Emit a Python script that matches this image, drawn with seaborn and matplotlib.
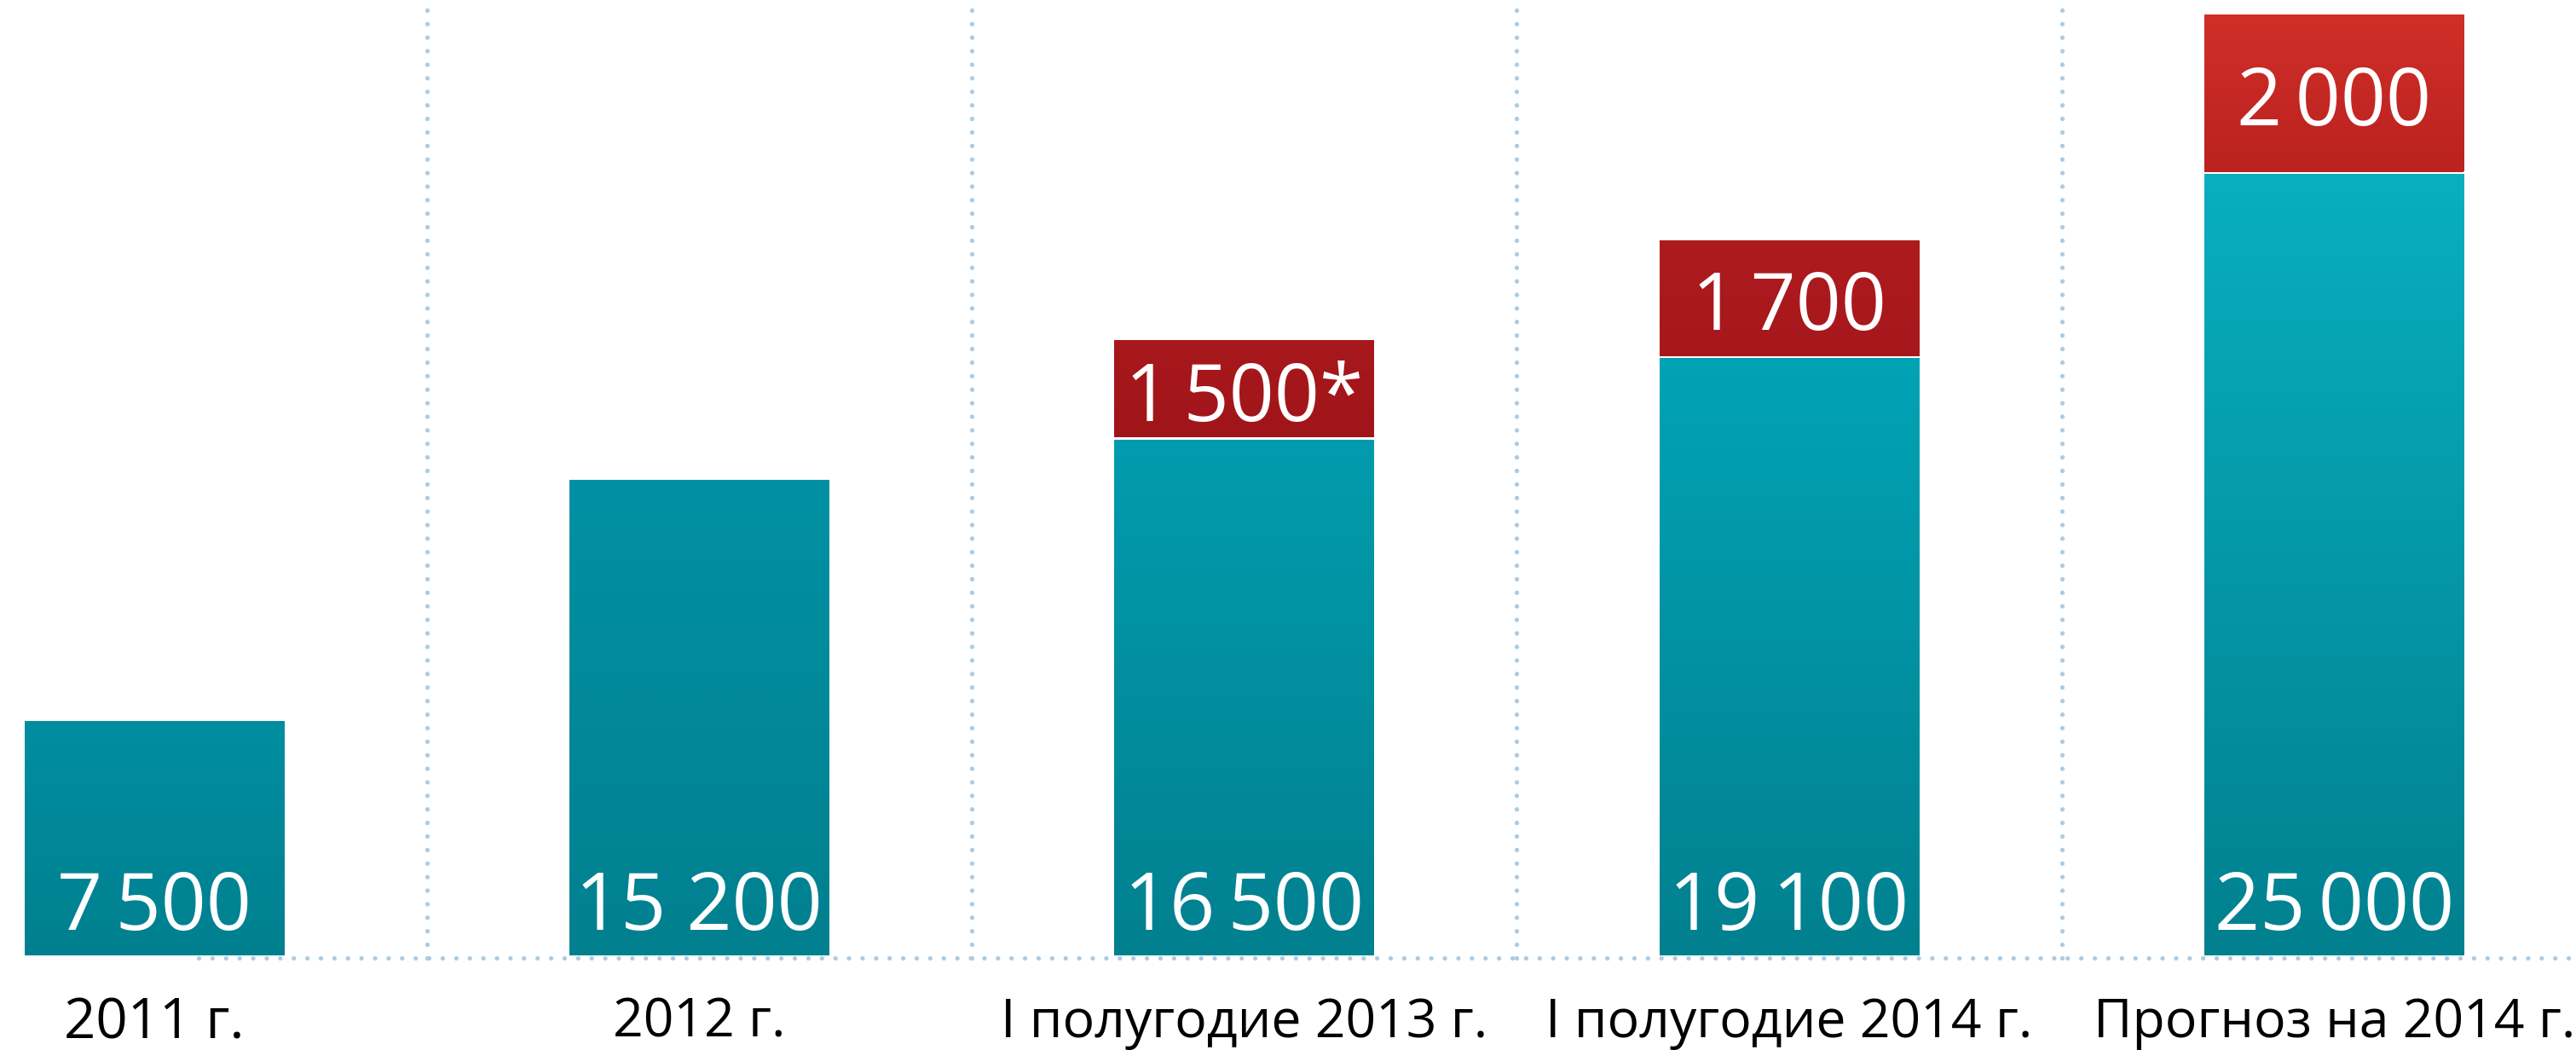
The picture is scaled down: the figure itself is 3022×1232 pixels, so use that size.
import numpy as np
import pandas as pd
import matplotlib
matplotlib.use("Agg")
import matplotlib.pyplot as plt
import seaborn as sns
from matplotlib.colors import LinearSegmentedColormap

# ---------------- data ----------------
categories = ["2011 г.", "2012 г.", "I полугодие 2013 г.", "I полугодие 2014 г.", "Прогноз на 2014 г."]
base_values = [7500, 15200, 16500, 19100, 25000]
base_labels = ["7\u2009500", "15 200", "16\u2009500", "19\u2009100", "25\u2009000"]
extra_values = [0, 0, 1500, 1700, 2000]
extra_labels = ["", "", "1\u2009500*", "1\u2009700", "2\u2009000"]
# heights of the red segments as they are drawn in the picture (not to scale there)
extra_drawn = [0, 0, 3100, 3700, 5000]

# ---------------- style ----------------
W, H, DPI = 3022, 1232, 100
PPU = 36.66 / 1000.0          # pixels per data unit
BASE_PX = 1121                # baseline pixel row (from top)
CAT_PX0, CAT_STEP = 181, 639.3
BAR_W = 0.476
GAP = 3 / PPU

teal_top = ["#008ea1", "#0191a4", "#029cae", "#02a3b5", "#08afbf"]
teal_bottom = "#01808f"
red_top = ["", "", "#a8181c", "#ae1b1e", "#d02f28"]
red_bottom = ["", "", "#a0151a", "#a6181c", "#bb2220"]
dot_color = "#aecbe1"

sns.set_theme(style="white")
plt.rcParams["font.family"] = ["Open Sans", "DejaVu Sans"]

fig = plt.figure(figsize=(W / DPI, H / DPI), dpi=DPI)
ax = fig.add_axes([0, 0, 1, 1])

df = pd.DataFrame({"cat": categories, "base": base_values,
                   "extra": extra_drawn})
bottoms = [b + GAP for b in base_values]

sns.barplot(data=df, x="cat", y="base", order=categories, width=BAR_W,
            color=teal_bottom, saturation=1, linewidth=0, edgecolor="none",
            ax=ax, zorder=2)
sns.barplot(data=df, x="cat", y="extra", order=categories, width=BAR_W,
            color=red_bottom[4], saturation=1, linewidth=0, edgecolor="none",
            bottom=bottoms, ax=ax, zorder=2)

patches = list(ax.patches)
grad = np.linspace(0, 1, 256).reshape(-1, 1)
for k, p in enumerate(patches):
    h = p.get_height()
    if h <= 0:
        continue
    i = k % len(categories)
    if k < len(categories):
        cmap = LinearSegmentedColormap.from_list("t", [teal_bottom, teal_top[i]])
    else:
        cmap = LinearSegmentedColormap.from_list("r", [red_bottom[i], red_top[i]])
    x0, y0, w = p.get_x(), p.get_y(), p.get_width()
    ax.imshow(grad, cmap=cmap, origin="lower", aspect="auto",
              extent=[x0, x0 + w, y0, y0 + h], zorder=2.5, interpolation="bicubic")

# limits mapping to pixels
xmin = -CAT_PX0 / CAT_STEP
xmax = (W - CAT_PX0) / CAT_STEP
ymin = -(H - BASE_PX) / PPU
ymax = BASE_PX / PPU
ax.set_xlim(xmin, xmax)
ax.set_ylim(ymin, ymax)
ax.axis("off")

# dotted guide lines
dot_lw = 3.8
dot_ls = (0, (0.01, 3.0))
y_hline = -3 / PPU
for xv in np.arange(0.5, len(categories) - 0.5, 1.0):
    ax.plot([xv, xv], [y_hline, ymax], color=dot_color, lw=dot_lw, ls=dot_ls,
            dash_capstyle="round", zorder=1)
ax.plot([(233 - CAT_PX0) / CAT_STEP, xmax], [y_hline, y_hline], color=dot_color,
        lw=dot_lw, ls=dot_ls, dash_capstyle="round", zorder=1)

# value labels
val_font = ["Open Sans", "DejaVu Sans"]
val_size = 67
digit_h_units = 0.714 * val_size * DPI / 72 / PPU
for i, lab in enumerate(base_labels):
    ax.text(i, 30 / PPU, lab, ha="center", va="baseline", color="white",
            fontsize=val_size, family=val_font, zorder=4)
for i, lab in enumerate(extra_labels):
    if not lab:
        continue
    yc = base_values[i] + GAP + extra_drawn[i] / 2
    ax.text(i, yc - digit_h_units / 2 - 4 / PPU, lab, ha="center", va="baseline",
            color="white", fontsize=val_size, family=val_font, zorder=4)

# category labels
cat_sizes = [47, 45, 45, 45, 45]
for i, lab in enumerate(categories):
    dh = 0.714 * cat_sizes[i] * DPI / 72
    base_px = 1172 + dh
    ax.text(i, -(base_px - BASE_PX) / PPU, lab, ha="center", va="baseline",
            color="black", fontsize=cat_sizes[i], zorder=4)

fig.savefig("out.png", dpi=DPI, facecolor="white")
